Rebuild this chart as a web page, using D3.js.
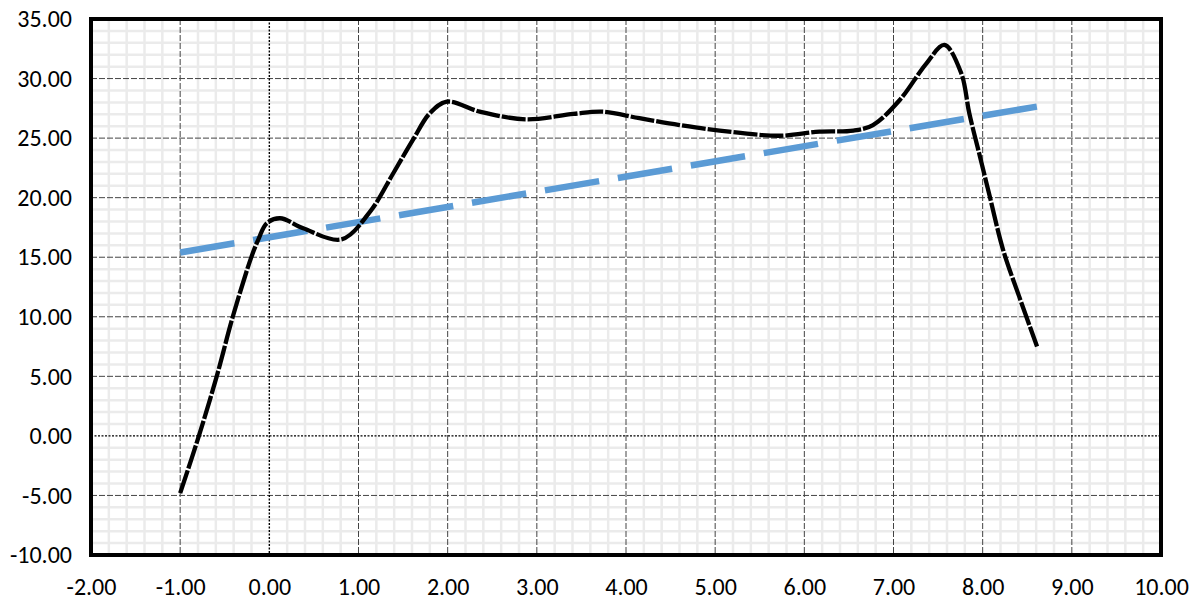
<!DOCTYPE html>
<html>
<head>
<meta charset="utf-8">
<script src="https://cdn.jsdelivr.net/npm/d3@7"></script>
<style>
  html, body { margin: 0; padding: 0; background: #fff; }
  svg { display: block; }
  .tick text { font-family: Carlito, "Liberation Sans", Arial, sans-serif; font-size: 24px; fill: #000; }
</style>
</head>
<body>
<svg id="chart" width="1198" height="601"></svg>
<script>
// ---- data ----
const seriesX = [-1.00, -0.79, -0.59, -0.41, -0.20, -0.125, -0.03, 0.12, 0.38, 0.81, 1.13, 1.39, 1.61, 1.80, 1.99,
                 2.36, 2.88, 3.41, 3.74, 4.15, 4.60, 5.05, 5.72, 6.17, 6.55, 6.77, 7.07, 7.37, 7.57,
                 7.76, 7.85, 7.97, 8.08, 8.23, 8.41, 8.61];
const seriesY = [-4.8, 0.0, 5.0, 10.0, 15.05, 16.45, 17.85, 18.27, 17.43, 16.5, 18.83, 22.05, 24.85, 27.09, 28.06,
                 27.22, 26.58, 27.03, 27.22, 26.67, 26.1, 25.63, 25.2, 25.54, 25.63, 26.1, 28.2, 31.28, 32.82,
                 30.44, 27.09, 23.44, 20.09, 15.6, 11.69, 7.5];
const trendX = [-1.00, 8.61];
const trendY = [15.4, 27.65];
const xTicks = [-2, -1, 0, 1, 2, 3, 4, 5, 6, 7, 8, 9, 10];
const yTicks = [-10, -5, 0, 5, 10, 15, 20, 25, 30, 35];

// ---- layout ----
const svg = d3.select("#chart");
const x = d3.scaleLinear().domain([-2, 10]).range([91, 1161]);
const y = d3.scaleLinear().domain([-10, 35]).range([555, 19]);
const [x0, x1] = x.range();
const [y0, y1] = y.range();

const g = svg.append("g");

// minor grid
const minorX = d3.range(-2, 10.0001, 0.2).filter(v => Math.abs(v - Math.round(v)) > 1e-6);
const minorY = d3.range(-10, 35.0001, 1).filter(v => v % 5 !== 0);
g.selectAll(".mx").data(minorX).join("line")
  .attr("x1", d => x(d)).attr("x2", d => x(d)).attr("y1", y1).attr("y2", y0)
  .attr("stroke", "#ebebeb").attr("stroke-width", 2.5);
g.selectAll(".my").data(minorY).join("line")
  .attr("y1", d => y(d)).attr("y2", d => y(d)).attr("x1", x0).attr("x2", x1)
  .attr("stroke", "#ebebeb").attr("stroke-width", 2.5);

// major grid
g.selectAll(".gx").data(xTicks.filter(v => v !== 0)).join("line")
  .attr("x1", d => x(d)).attr("x2", d => x(d)).attr("y1", y1).attr("y2", y0)
  .attr("stroke", "#444").attr("stroke-width", 1).attr("stroke-dasharray", "6 2");
g.selectAll(".gy").data(yTicks.filter(v => v !== 0)).join("line")
  .attr("y1", d => y(d)).attr("y2", d => y(d)).attr("x1", x0).attr("x2", x1)
  .attr("stroke", "#444").attr("stroke-width", 1).attr("stroke-dasharray", "6 2");

// zero lines (dotted)
g.append("line").attr("x1", x(0)).attr("x2", x(0)).attr("y1", y1).attr("y2", y0)
  .attr("stroke", "#000").attr("stroke-width", 1.4).attr("stroke-dasharray", "2 1.5");
g.append("line").attr("y1", y(0)).attr("y2", y(0)).attr("x1", x0).attr("x2", x1)
  .attr("stroke", "#000").attr("stroke-width", 1.4).attr("stroke-dasharray", "2 1.5");

// trendline
const trend = trendX.map((d, i) => [d, trendY[i]]);
g.append("path").datum(trend)
  .attr("d", d3.line().x(d => x(d[0])).y(d => y(d[1])))
  .attr("fill", "none").attr("stroke", "#5B9BD5").attr("stroke-width", 6.5)
  .attr("stroke-dasharray", "55 19");

// series
const pts = seriesX.map((d, i) => [d, seriesY[i]]);
g.append("path").datum(pts)
  .attr("d", d3.line().curve(d3.curveCatmullRom.alpha(0.5)).x(d => x(d[0])).y(d => y(d[1])))
  .attr("fill", "none").attr("stroke", "#000").attr("stroke-width", 4.3)
  .attr("stroke-dasharray", "24 2");

// frame
g.append("rect").attr("x", x0).attr("y", y1).attr("width", x1 - x0).attr("height", y0 - y1)
  .attr("fill", "none").attr("stroke", "#000").attr("stroke-width", 4);

// axes labels
const fmt = d => d.toFixed(2);
svg.append("g").attr("transform", `translate(${x0},0)`)
  .call(d3.axisLeft(y).tickValues(yTicks).tickFormat(fmt).tickSize(0).tickPadding(19))
  .call(a => a.select(".domain").remove());
svg.append("g").attr("transform", `translate(0,${y0})`)
  .call(d3.axisBottom(x).tickValues(xTicks).tickFormat(fmt).tickSize(0).tickPadding(23))
  .call(a => a.select(".domain").remove());
</script>
</body>
</html>
